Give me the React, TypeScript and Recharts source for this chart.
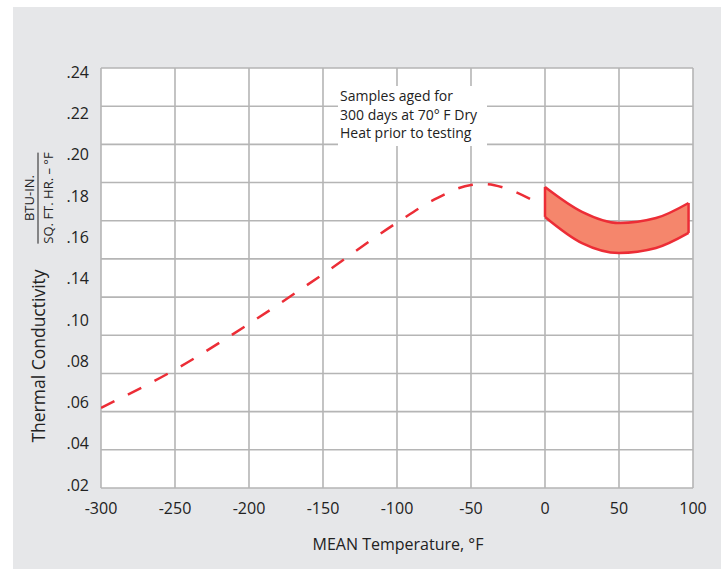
import React from "react";
import { ComposedChart, Line, Area, XAxis, YAxis, CartesianGrid } from "recharts";

// dashed curve, all samples
const curveTemps = [-300, -250, -200, -150, -100, -75, -50, -40, -25, -5];
const curveK = [0.062, 0.082, 0.106, 0.132, 0.159, 0.171, 0.1787, 0.1792, 0.1766, 0.1693];

// aged samples band (low / high)
const bandTemps = [0, 25, 50, 75, 97];
const bandLow = [0.162, 0.1483, 0.1431, 0.1457, 0.1536];
const bandHigh = [0.1777, 0.1647, 0.1588, 0.1614, 0.1693];

const xTicks = [-300, -250, -200, -150, -100, -50, 0, 50, 100];
const gridTicks = [0.02, 0.04, 0.06, 0.08, 0.1, 0.12, 0.14, 0.16, 0.18, 0.2, 0.22, 0.24];
// labels as printed on the original, top to bottom
const yLabels = [".24", ".22", ".20", ".18", ".16", ".14", ".10", ".08", ".06", ".04", ".02"];

const curveData = curveTemps.map((t, i) => ({ t, k: curveK[i] }));
const bandData = bandTemps.map((t, i) => ({ t, band: [bandLow[i], bandHigh[i]] }));
const leftEdge = [
  { t: bandTemps[0], k: bandLow[0] },
  { t: bandTemps[0], k: bandHigh[0] },
];
const last = bandTemps.length - 1;
const rightEdge = [
  { t: bandTemps[last], k: bandLow[last] },
  { t: bandTemps[last], k: bandHigh[last] },
];

const FONT = "'Open Sans', 'Noto Sans', sans-serif";
const RED = "#ec2d36";
const GRID = "#b5b5b5";

export default function App() {
  return (
    <div style={{ position: "absolute", left: 0, top: 0, width: 721, height: 569, background: "#fff", fontFamily: FONT }}>
      <div style={{ position: "absolute", left: 13, top: 7, width: 708, height: 562, background: "#e6e7e9" }} />
      {/* white plot background */}
      <div style={{ position: "absolute", left: 101, top: 68, width: 592, height: 420, background: "#fff" }} />
      <div style={{ position: "absolute", left: 0, top: 0 }}>
        <ComposedChart width={721} height={569} margin={{ top: 68, right: 28, bottom: 51, left: 41 }}>
          <CartesianGrid yAxisId="grid" stroke={GRID} strokeWidth={1.6} />
          <XAxis
            type="number"
            dataKey="t"
            domain={[-300, 100]}
            ticks={xTicks}
            allowDataOverflow
            axisLine={false}
            tickLine={false}
            height={30}
            tick={{ fill: "#222", fontSize: 16, fontFamily: FONT, dy: 7 }}
          />
          <YAxis
            yAxisId="labels"
            type="number"
            domain={[-0.07, 10.1]}
            ticks={[0, 1, 2, 3, 4, 5, 6, 7, 8, 9, 10]}
            allowDataOverflow
            width={60}
            axisLine={false}
            tickLine={false}
            tickMargin={6}
            tickFormatter={(v: number) => yLabels[10 - v]}
            tick={{ fill: "#222", fontSize: 16, fontFamily: FONT }}
          />
          <YAxis yAxisId="grid" type="number" domain={[0.02, 0.24]} ticks={gridTicks} hide width={0} allowDataOverflow />
          <Area
            yAxisId="grid"
            data={bandData}
            dataKey="band"
            type="monotone"
            fill="#f5866c"
            fillOpacity={1}
            stroke={RED}
            strokeWidth={2.5}
            isAnimationActive={false}
          />
          <Line yAxisId="grid" data={leftEdge} dataKey="k" type="linear" stroke={RED} strokeWidth={2.5} dot={false} isAnimationActive={false} />
          <Line yAxisId="grid" data={rightEdge} dataKey="k" type="linear" stroke={RED} strokeWidth={2.5} dot={false} isAnimationActive={false} />
          <Line
            yAxisId="grid"
            data={curveData}
            dataKey="k"
            type="monotone"
            stroke={RED}
            strokeWidth={2.5}
            strokeDasharray="15 15"
            dot={false}
            isAnimationActive={false}
          />
        </ComposedChart>
      </div>
      {/* note box */}
      <div
        style={{
          position: "absolute",
          left: 338,
          top: 86,
          width: 149,
          height: 60,
          background: "#fff",
          color: "#222",
          fontSize: 14,
          lineHeight: "18.5px",
          paddingLeft: 2,
          paddingTop: 1,
          boxSizing: "border-box",
          whiteSpace: "nowrap",
        }}
      >
        Samples aged for
        <br />
        300 days at 70° F Dry
        <br />
        Heat prior to testing
      </div>
      {/* axis titles */}
      <div
        style={{
          position: "absolute",
          left: 398,
          top: 544,
          transform: "translate(-50%, -50%)",
          fontSize: 16,
          color: "#222",
          whiteSpace: "nowrap",
        }}
      >
        MEAN Temperature, °F
      </div>
      <div
        style={{
          position: "absolute",
          left: 38,
          top: 356,
          transform: "translate(-50%, -50%) rotate(-90deg)",
          fontSize: 17.5,
          color: "#222",
          whiteSpace: "nowrap",
        }}
      >
        Thermal Conductivity
      </div>
      <div
        style={{
          position: "absolute",
          left: 38,
          top: 198,
          transform: "translate(-50%, -50%) rotate(-90deg)",
          fontSize: 13,
          color: "#222",
          whiteSpace: "nowrap",
          textAlign: "center",
          lineHeight: "16px",
        }}
      >
        <div style={{ borderBottom: "1px solid #222", padding: "0 0 1px" }}>BTU-IN.</div>
        <div style={{ paddingTop: 1 }}>SQ. FT. HR. – °F</div>
      </div>
    </div>
  );
}
